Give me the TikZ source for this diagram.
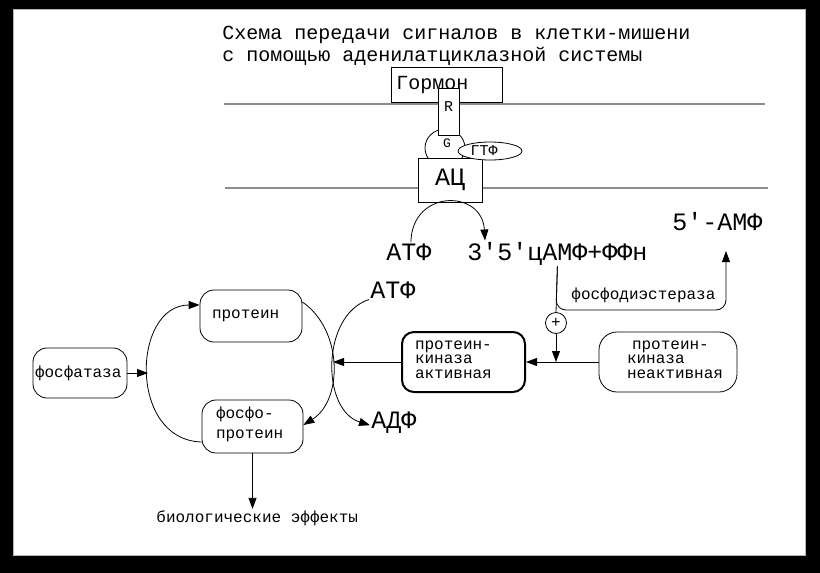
\documentclass[tikz,border=0pt]{standalone}
\usepackage{fontspec}
\setmainfont{Liberation Mono}
\usepackage{tikz}
\usetikzlibrary{shapes.geometric, arrows.meta, positioning}
\definecolor{membranegray}{HTML}{8C8C8C}
\definecolor{framegray}{HTML}{B4B4B4}
\newcommand{\fsz}[2]{\fontsize{#1}{#2}\selectfont}

\begin{document}
\begin{tikzpicture}[x=1pt, y=-1pt, line width=0.8pt,
        lab/.style={inner sep=1pt, anchor=base west},
        biglab/.style={lab, font=\fsz{25}{25}},
        smalllab/.style={lab, font=\fsz{16}{16}},
        pbox/.style={draw, fill=white, rounded corners=14pt, align=left,
                     inner ysep=0pt, font=\fsz{16}{14.5}},
        arr/.style={-{Triangle[length=11pt, width=8pt]}},
        membrane/.style={draw=membranegray, line width=1.6pt}]
    \useasboundingbox (0,0) rectangle (820,573);
    \fill[black] (0,0) rectangle (820,573);
    \filldraw[fill=white, draw=framegray, line width=1pt] (13,9) rectangle (805,555);

    \node[lab, font=\fsz{20}{22}] (title1) at (221,39) {Схема передачи сигналов в клетки-мишени};
    \node[lab, font=\fsz{20}{22}] (title2) at (221,61) {с помощью аденилатциклазной системы};

    \draw[membrane] (224,104) -- (765,104);
    \draw[membrane] (225,188) -- (768,188);

    \node[draw, fill=white, anchor=north west, minimum height=35pt, text width=101pt,
          inner xsep=5pt, align=left, font=\fsz{20}{20}] (hormone) at (391,67) {Гормон};
    \node[ellipse, draw, fill=white, minimum width=40pt, minimum height=38pt] (gprot) at (445,148) {};
    \node[font=\fsz{13}{13}, inner sep=0pt] (glab) at (447,143) {G};
    \node[draw, fill=white, anchor=north, minimum width=21pt, minimum height=47pt,
          inner sep=0pt] (receptor) at (448.5,88) {};
    \node[font=\fsz{15}{15}, inner sep=0pt] (rlab) at (448.5,107) {R};
    \node[draw, fill=white, minimum width=64pt, minimum height=44pt, inner sep=0pt,
          font=\fsz{25}{25}] (ac) at (450,180) {АЦ};
    \node[ellipse, draw, fill=white, minimum width=64pt, minimum height=18pt,
          inner sep=0pt] (gtp) at (490,151) {};
    \node[font=\fsz{15}{15}, inner sep=0pt] (gtplab) at (484,151) {ГТФ};

    \node[biglab] (atpA) at (385,260) {АТФ};
    \node[biglab] (camp) at (466,260) {3\textquotesingle5\textquotesingle цАМФ+ФФн};
    \node[biglab] (amp) at (671,230) {5\textquotesingle-АМФ};
    \node[biglab] (atpB) at (369,298) {АТФ};
    \node[biglab] (adp) at (370,428) {АДФ};
    \node[smalllab] (pde) at (570,299) {фосфодиэстераза};
    \node[smalllab] (bio) at (155,522) {биологические эффекты};

    \node[pbox, minimum height=52pt, text width=78pt, inner xsep=12pt] (prot) at (251,316) {протеин};
    \node[pbox, minimum height=53pt, text width=73pt, inner xsep=14pt, font=\fsz{16}{20},
          text height=10pt, text depth=27pt] (phprot) at (252.5,426.5) {фосфо-\\протеин};
    \node[pbox, minimum height=50pt, text width=90pt, inner xsep=2pt] (phase) at (80,373) {фосфатаза};
    \node[pbox, line width=2pt, rounded corners=12pt, minimum height=60pt, text width=97pt,
          inner xsep=13pt, text height=9pt, text depth=35pt] (pkact) at (463.5,362)
          {\hyphenpenalty=10000\exhyphenpenalty=10000\relax
           протеин-\\киназа\\активная};
    \node[pbox, rounded corners=18pt, minimum height=60pt, text width=82pt,
          inner xsep=28pt, text height=9pt, text depth=35pt] (pkinact) at (668,362)
          {\hyphenpenalty=10000\exhyphenpenalty=10000\relax
           \hspace*{5pt}протеин-\\киназа\\неактивная};
    \node[circle, draw, fill=white, minimum size=21pt, inner sep=0pt,
          font=\fsz{16}{16}] (plus) at (556,323) {+};

    \coordinate (split) at (556,310);
    \coordinate (ampin) at (726,251);
    \coordinate (hub) at (333,362);
    \coordinate (lefthub) at (148,373);

    \draw[arr] ([xshift=2pt]atpA.north) .. controls (412,189) and (482,189) .. ([xshift=19pt]camp.north west);
    \draw (camp.south) -- (plus.north);
    \draw[arr, rounded corners=10pt] (camp.south) -- (split) -| (ampin);
    \draw[arr] (plus.south) -- (plus.south |- pkinact.west);
    \draw[arr] (pkinact.west) -- (pkact.east);
    \draw[arr] (pkact.west) -- (hub);
    \draw[arr] (phase.east) -- (lefthub);
    \draw[arr] ([yshift=14pt]prot.east) .. controls (343,330) and (343,400) .. ([yshift=1.5pt]phprot.east);
    \draw[arr] ([yshift=-15.5pt]phprot.west) .. controls (128,440) and (132,305) .. ([yshift=11pt]prot.west);
    \draw[arr] (atpB.south west) .. controls (321,315) and (321,410) .. ([yshift=-3pt]adp.west);
    \draw[arr] (phprot.south) -- (phprot.south |- bio.north);
\end{tikzpicture}
\end{document}
